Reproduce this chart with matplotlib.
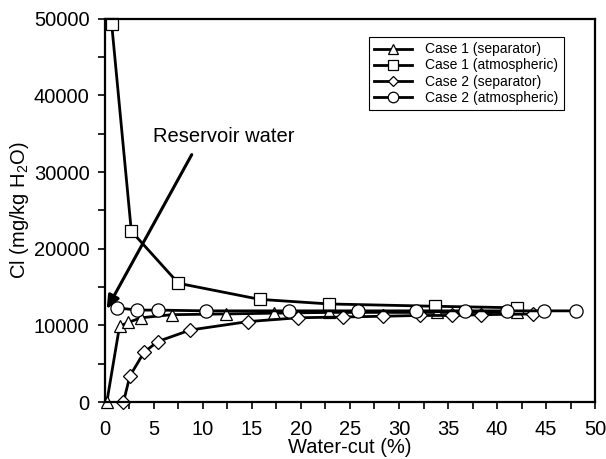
import numpy as np
import matplotlib
matplotlib.use('Agg')
import matplotlib.pyplot as plt

plt.rcParams['font.family'] = ['Liberation Sans', 'DejaVu Sans']
plt.rcParams['mathtext.default'] = 'regular'

# Case 1 (separator)
c1s_x = [0.2, 1.5, 2.4, 3.7, 6.8, 12.4, 17.3, 22.9, 33.9, 42.0]
c1s_y = [0, 9900, 10400, 11000, 11400, 11500, 11600, 11700, 11700, 11700]
# Case 1 (atmospheric)
c1a_x = [0.7, 2.7, 7.5, 15.8, 22.9, 33.7, 42.0]
c1a_y = [49300, 22300, 15500, 13400, 12800, 12500, 12300]
# Case 2 (separator)
c2s_x = [1.9, 2.55, 4.0, 5.4, 8.7, 14.6, 19.7, 24.3, 28.4, 32.1, 35.4, 38.4, 43.7]
c2s_y = [0, 3400, 6500, 7900, 9400, 10500, 11000, 11100, 11200, 11300, 11300, 11400, 11500]
# Case 2 (atmospheric)
c2a_x = [1.2, 3.3, 5.4, 10.3, 18.8, 25.8, 31.7, 36.7, 41.0, 44.8, 48.1]
c2a_y = [12300, 12000, 12000, 11900, 11900, 11900, 11900, 11900, 11900, 11900, 11900]

fig = plt.figure(figsize=(6.06, 4.59), dpi=100)
ax = fig.add_axes([0.173, 0.124, 0.809, 0.835])

kw = dict(color='black', lw=2.0, markerfacecolor='white', markeredgecolor='black',
          markeredgewidth=0.9, clip_on=False)
ax.plot(c1s_x, c1s_y, marker='^', ms=9, label='Case 1 (separator)', **kw)
ax.plot(c1a_x, c1a_y, marker='s', ms=9, label='Case 1 (atmospheric)', **kw)
ax.plot(c2s_x, c2s_y, marker='D', ms=7, label='Case 2 (separator)', **kw)
ax.plot(c2a_x, c2a_y, marker='o', ms=9.5, label='Case 2 (atmospheric)', **kw)

ax.annotate('', xy=(0.05, 11800), xytext=(9.0, 32600),
            arrowprops=dict(arrowstyle='-|>,head_length=0.8,head_width=0.35', color='black', lw=2.2))
ax.text(4.9, 34700, 'Reservoir water', fontsize=14.5, va='center', ha='left')

ax.set_xlim(0, 50)
ax.set_ylim(0, 50000)
ax.set_xticks(np.arange(0, 51, 5))
ax.set_xticks(np.arange(0, 51, 2.5), minor=True)
ax.set_yticks(np.arange(0, 50001, 10000))
ax.set_yticks(np.arange(0, 50001, 5000), minor=True)
ax.tick_params(which='both', direction='out', length=5, width=1.2, labelsize=14.5)
ax.tick_params(axis='x', pad=8)
ax.tick_params(axis='y', pad=6)
for s in ax.spines.values():
    s.set_linewidth(1.6)

ax.set_xlabel('Water-cut (%)', fontsize=14.5, labelpad=-1)
ax.set_ylabel('Cl (mg/kg H$_2$O)', fontsize=14.5, labelpad=2)

leg = ax.legend(loc='upper right', bbox_to_anchor=(0.936, 0.953), borderaxespad=0, fontsize=10,
                frameon=True, fancybox=False, edgecolor='black', framealpha=1,
                handlelength=2.75, borderpad=0.4, labelspacing=0.15, handletextpad=0.9,
                markerscale=0.8)
leg.get_frame().set_linewidth(0.8)

fig.savefig('out.png', dpi=100)
